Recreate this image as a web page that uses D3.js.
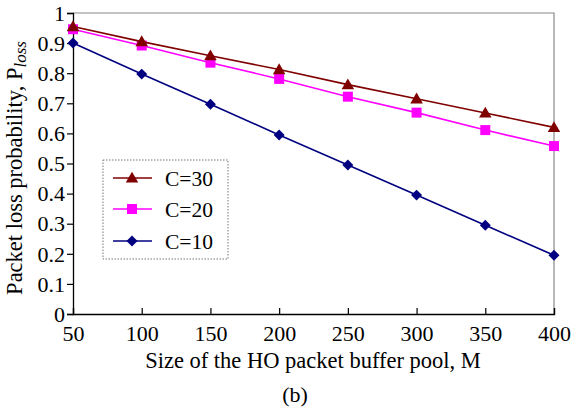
<!DOCTYPE html>
<html><head><meta charset="utf-8">
<script src="https://cdn.jsdelivr.net/npm/d3@7"></script>
<style>body{margin:0;background:#fff}svg{display:block}text{font-family:"Liberation Serif","Times New Roman",serif;fill:#000}</style>
</head><body><svg id="c" width="571" height="409"></svg>
<script>
const xValues = [50,100,150,200,250,300,350,400];
const c30 = [0.955,0.905,0.858,0.812,0.762,0.715,0.668,0.62];
const c20 = [0.946,0.892,0.835,0.781,0.722,0.669,0.611,0.558];
const c10 = [0.9,0.797,0.697,0.595,0.495,0.395,0.295,0.195];
const seriesNames = ["C=30","C=20","C=10"];
const yTicks = [0,0.1,0.2,0.3,0.4,0.5,0.6,0.7,0.8,0.9,1];
const xTicks = [50,100,150,200,250,300,350,400];

const svg = d3.select("#c");
const L=73,R=554,T=13,B=314;
const x = d3.scaleLinear().domain([50,400]).range([L,R]);
const y = d3.scaleLinear().domain([0,1]).range([B,T]);

svg.append("path").attr("d",`M${L},${T}H${R}V${B}`).attr("fill","none").attr("stroke","#888").attr("stroke-width",1.2);

const yAxis = svg.append("g").attr("transform",`translate(${L},0)`)
  .call(d3.axisLeft(y).tickValues(yTicks).tickSize(6).tickPadding(2).tickFormat(d=>d===0?"0":d===1?"1":d3.format(".1f")(d)));
const xAxis = svg.append("g").attr("transform",`translate(0,${B})`)
  .call(d3.axisBottom(x).tickValues(xTicks).tickSize(-6).tickPadding(11).tickFormat(d3.format("d")));
[yAxis,xAxis].forEach(a=>{a.select(".domain").attr("stroke","#000").attr("stroke-width",1.3);
  a.selectAll(".tick line").attr("stroke","#000").attr("stroke-width",1.2);
  a.selectAll("text").attr("font-size",22);});
yAxis.selectAll("text").attr("dy","0.33em");
xAxis.selectAll("text").attr("dy","0.71em");

const diamond = {draw(ctx,size){const r=Math.sqrt(size)/2*Math.SQRT2;ctx.moveTo(0,-r);ctx.lineTo(r,0);ctx.lineTo(0,r);ctx.lineTo(-r,0);ctx.closePath();}};
const series = [
  {name:seriesNames[0], vals:c30, color:"#800000", sym:d3.symbolTriangle, size:68, dy:1},
  {name:seriesNames[1], vals:c20, color:"#ff00ff", sym:d3.symbolSquare, size:100, dy:0},
  {name:seriesNames[2], vals:c10, color:"#000080", sym:diamond, size:60, dy:0}
];
const line = d3.line().x((d,i)=>x(xValues[i])).y(d=>y(d));
series.slice().reverse().forEach(s=>{
  svg.append("path").attr("d",line(s.vals)).attr("fill","none").attr("stroke",s.color).attr("stroke-width",1.6);
  svg.append("g").selectAll("path").data(s.vals).join("path")
    .attr("transform",(d,i)=>`translate(${x(xValues[i])},${y(d)+s.dy})`)
    .attr("d",d3.symbol(s.sym,s.size)).attr("fill",s.color);
});

const lg = svg.append("g");
lg.append("rect").attr("x",103).attr("y",160).attr("width",125).attr("height",99)
  .attr("fill","#fff").attr("stroke","#777").attr("stroke-dasharray","1.5,1.5").attr("stroke-width",1);
const legY = [178,209,241];
series.forEach((s,i)=>{
  const yy = legY[i];
  lg.append("line").attr("x1",113).attr("x2",152).attr("y1",yy).attr("y2",yy).attr("stroke",s.color).attr("stroke-width",1.6);
  lg.append("path").attr("transform",`translate(132,${yy+s.dy})`).attr("d",d3.symbol(s.sym,s.size)).attr("fill",s.color);
  lg.append("text").attr("x",165).attr("y",yy).attr("dy","0.35em").attr("font-size",21.5).text(s.name);
});

const yt = svg.append("text").attr("transform","translate(22,168) rotate(-90)").attr("text-anchor","middle").attr("font-size",22.5);
yt.append("tspan").text("Packet loss probability, P");
yt.append("tspan").attr("font-style","italic").attr("font-size",17).attr("dy",4).text("loss");
svg.append("text").attr("x",313).attr("y",368).attr("text-anchor","middle").attr("font-size",22.5).text("Size of the HO packet buffer pool, M");
svg.append("text").attr("x",295).attr("y",402).attr("text-anchor","middle").attr("font-size",22).text("(b)");
</script></body></html>
